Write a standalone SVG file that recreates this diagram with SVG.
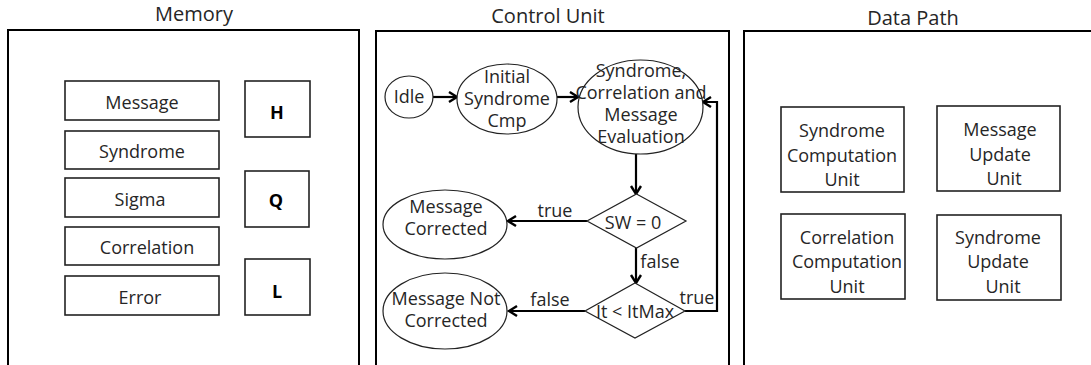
<svg xmlns="http://www.w3.org/2000/svg" width="1091" height="365" viewBox="0 0 1091 365">
<defs>
<style>
text{font-family:"Open Sans","Liberation Sans",sans-serif;font-size:18px;fill:#262626;text-anchor:middle}
.title{font-size:20px}
.bold{font-weight:bold;fill:#000}
.panel{fill:#fff;stroke:#000;stroke-width:2}
.box{fill:#fff;stroke:#222;stroke-width:1.6}
.node{fill:#fff;stroke:#222;stroke-width:1.2}
.conn{fill:none;stroke:#000;stroke-width:2.2}
</style>
<marker id="arr" markerUnits="userSpaceOnUse" markerWidth="12" markerHeight="14" refX="9" refY="6" orient="auto">
<path d="M1,1 L9,6 L1,11" fill="none" stroke="#000" stroke-width="2.4"/>
</marker>
</defs>
<rect width="1091" height="365" fill="#fff"/>

<g id="memory">
<text class="title" x="194" y="21">Memory</text>
<rect class="panel" x="8" y="30" width="351" height="345"/>
<g id="mem-message"><rect class="box" x="65" y="81" width="154" height="39"/><text x="142" y="109">Message</text></g>
<g id="mem-syndrome"><rect class="box" x="65" y="131" width="154" height="38"/><text x="142" y="158">Syndrome</text></g>
<g id="mem-sigma"><rect class="box" x="65" y="178" width="154" height="39"/><text x="140" y="206">Sigma</text></g>
<g id="mem-correlation"><rect class="box" x="65" y="227" width="154" height="38"/><text x="147" y="254">Correlation</text></g>
<g id="mem-error"><rect class="box" x="65" y="276" width="154" height="39"/><text x="140" y="304">Error</text></g>
<g id="mem-h"><rect class="box" x="245" y="81" width="65" height="56"/><text class="bold" x="277" y="119">H</text></g>
<g id="mem-q"><rect class="box" x="245" y="171" width="64" height="56"/><text class="bold" x="276" y="207">Q</text></g>
<g id="mem-l"><rect class="box" x="245" y="259" width="65" height="56"/><text class="bold" x="277" y="298">L</text></g>
</g>

<g id="control-unit">
<text class="title" x="548" y="23">Control Unit</text>
<rect class="panel" x="376" y="31" width="353" height="345"/>
</g>

<g id="connectors">
<line class="conn" x1="433" y1="97" x2="457" y2="97" marker-end="url(#arr)"/>
<line class="conn" x1="557" y1="97" x2="578" y2="97" marker-end="url(#arr)"/>
<line class="conn" x1="636" y1="154" x2="636" y2="194" marker-end="url(#arr)"/>
<line class="conn" x1="587" y1="221" x2="508" y2="221" marker-end="url(#arr)"/>
<line class="conn" x1="636" y1="248" x2="636" y2="283" marker-end="url(#arr)"/>
<line class="conn" x1="585" y1="311" x2="509" y2="311" marker-end="url(#arr)"/>
<polyline class="conn" points="685,311 717,311 717,102 703,102" marker-end="url(#arr)"/>
<text x="555" y="217">true</text>
<text x="660" y="268">false</text>
<text x="550" y="306">false</text>
<text x="697" y="304">true</text>
</g>

<g id="idle"><ellipse class="node" cx="409" cy="97" rx="24" ry="21"/><text x="409" y="103">Idle</text></g>
<g id="initial"><ellipse class="node" cx="507" cy="99" rx="50" ry="35"/>
<text x="507" y="83">Initial</text><text x="507" y="105">Syndrome</text><text x="507" y="127">Cmp</text></g>
<g id="evaluation"><ellipse class="node" cx="640.5" cy="107" rx="62.5" ry="47"/>
<text x="641" y="77">Syndrome,</text><text x="641" y="99">Correlation and</text><text x="641" y="121">Message</text><text x="641" y="143">Evaluation</text></g>
<g id="sw"><polygon class="node" points="636.5,194 686,221 636.5,248 587,221"/><text x="633" y="229">SW = 0</text></g>
<g id="it"><polygon class="node" points="635,283 685,311 635,338 585,311"/><text x="635" y="318">It &lt; ItMax</text></g>
<g id="corrected"><ellipse class="node" cx="445" cy="224.5" rx="62" ry="34.5"/>
<text x="446" y="213">Message</text><text x="446" y="235">Corrected</text></g>
<g id="not-corrected"><ellipse class="node" cx="445" cy="311" rx="62" ry="38"/>
<text x="446" y="305">Message Not</text><text x="446" y="327">Corrected</text></g>

<g id="data-path">
<text class="title" x="913" y="25">Data Path</text>
<rect class="panel" x="744" y="31" width="360" height="345"/>
<g id="dp-syn-comp"><rect class="box" x="781" y="107" width="123" height="85"/>
<text x="842" y="137">Syndrome</text><text x="842" y="162">Computation</text><text x="842" y="186">Unit</text></g>
<g id="dp-msg-upd"><rect class="box" x="937" y="106" width="123" height="85"/>
<text x="1000" y="136">Message</text><text x="1000" y="161">Update</text><text x="1004" y="185">Unit</text></g>
<g id="dp-corr-comp"><rect class="box" x="781" y="214" width="124" height="85"/>
<text x="847" y="244">Correlation</text><text x="847" y="268">Computation</text><text x="847" y="293">Unit</text></g>
<g id="dp-syn-upd"><rect class="box" x="937" y="215" width="124" height="85"/>
<text x="998" y="244">Syndrome</text><text x="998" y="268">Update</text><text x="1003" y="293">Unit</text></g>
</g>
</svg>
